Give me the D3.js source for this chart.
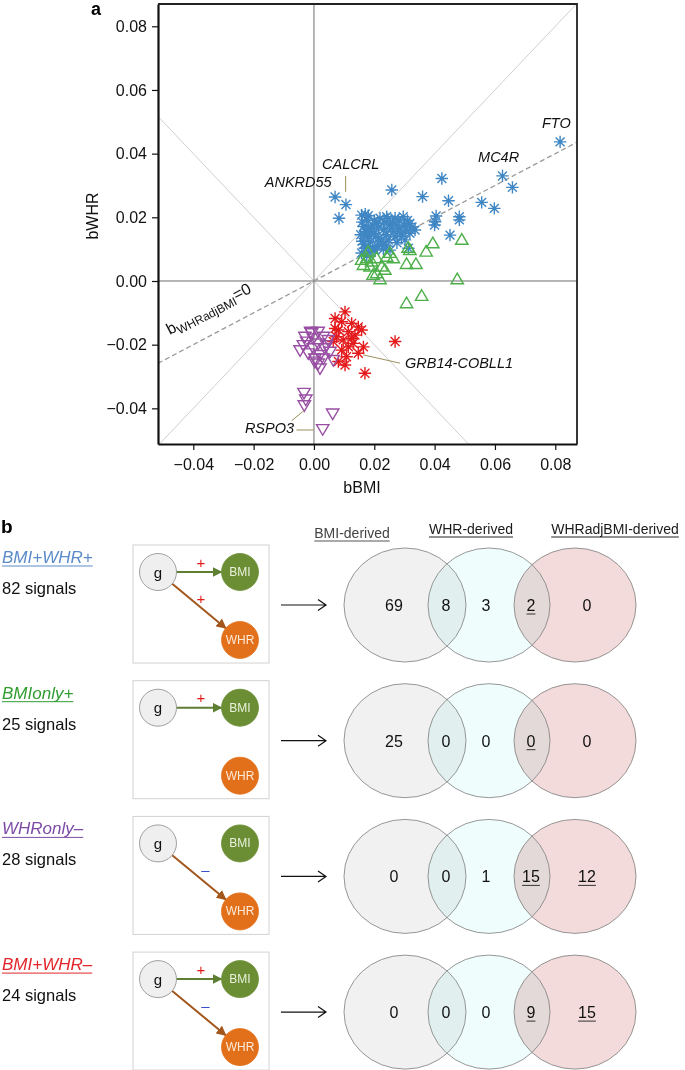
<!DOCTYPE html>
<html lang="en">
<head>
  <meta charset="UTF-8">
  <title>bBMI vs bWHR</title>
  <style>
    body { margin: 0; background: #fff; }
    svg { display: block; font-family: 'Liberation Sans', Arial, Helvetica, sans-serif; }
  </style>
</head>
<body>
  <svg id="svg" width="685" height="1070"></svg>
  <script src="https://d3js.org/d3.v7.min.js"></script>
  <script>
    // panel a: [bBMI, bWHR] per signal
    const bmiWhrPos = [
      [0.0816, 0.0437], [0.0625, 0.0330], [0.0658, 0.0294], [0.0424, 0.0322], [0.0258, 0.0286],
      [0.0360, 0.0265], [0.0446, 0.0252], [0.0556, 0.0247], [0.0598, 0.0228], [0.0405, 0.0204],
      [0.0402, 0.0186], [0.0400, 0.0176], [0.0482, 0.0202], [0.0482, 0.0192], [0.0451, 0.0144],
      [0.0070, 0.0264], [0.0106, 0.0240], [0.0083, 0.0197],
      [0.0158, 0.0207], [0.0170, 0.0210], [0.0180, 0.0205], [0.0208, 0.0181], [0.0219, 0.0197],
      [0.0241, 0.0202], [0.0269, 0.0197], [0.0280, 0.0192], [0.0296, 0.0202], [0.0318, 0.0181],
      [0.0335, 0.0160], [0.0318, 0.0150], [0.0285, 0.0166], [0.0252, 0.0176], [0.0230, 0.0160],
      [0.0191, 0.0155], [0.0169, 0.0144], [0.0186, 0.0123], [0.0169, 0.0103], [0.0202, 0.0097],
      [0.0225, 0.0113], [0.0246, 0.0129], [0.0269, 0.0139], [0.0302, 0.0129], [0.0313, 0.0103],
      [0.0252, 0.0097], [0.0164, 0.0171], [0.0175, 0.0192], [0.0160, 0.0125], [0.0158, 0.0088],
      [0.0175, 0.0080], [0.0190, 0.0090], [0.0210, 0.0110], [0.0215, 0.0135], [0.0200, 0.0150],
      [0.0180, 0.0165], [0.0195, 0.0175], [0.0215, 0.0170], [0.0235, 0.0185], [0.0260, 0.0185],
      [0.0275, 0.0175], [0.0300, 0.0175], [0.0310, 0.0190], [0.0325, 0.0170], [0.0290, 0.0150],
      [0.0265, 0.0155], [0.0240, 0.0145], [0.0225, 0.0125], [0.0180, 0.0110], [0.0165, 0.0115],
      [0.0205, 0.0140], [0.0185, 0.0140], [0.0240, 0.0110], [0.0275, 0.0120], [0.0290, 0.0140],
      [0.0170, 0.0155], [0.0155, 0.0145], [0.0195, 0.0105], [0.0230, 0.0100], [0.0255, 0.0165],
      [0.0245, 0.0195], [0.0305, 0.0160], [0.0200, 0.0190], [0.0160, 0.0185]
    ]
    const bmiOnlyPos = [
      [0.0490, 0.0129], [0.0394, 0.0118], [0.0372, 0.0092], [0.0318, 0.0097], [0.0307, 0.0053],
      [0.0338, 0.0053], [0.0475, 0.0005], [0.0357, -0.0047], [0.0307, -0.0070], [0.0219, 0.0005],
      [0.0235, 0.0035], [0.0208, 0.0024], [0.0164, 0.0050], [0.0186, 0.0045], [0.0175, 0.0071],
      [0.0208, 0.0071], [0.0241, 0.0076], [0.0263, 0.0071], [0.0180, 0.0092], [0.0312, 0.0104],
      [0.0252, 0.0088], [0.0196, 0.0019], [0.0225, 0.0045], [0.0158, 0.0066], [0.0191, 0.0061]
    ]
    const whrOnlyNeg = [
      [-0.0033, -0.0351], [-0.0027, -0.0372], [-0.0032, -0.0390], [0.0062, -0.0416], [0.0029, -0.0465],
      [-0.0011, -0.0159], [0.0014, -0.0159], [-0.0030, -0.0175], [-0.0002, -0.0180], [0.0031, -0.0175],
      [0.0047, -0.0185], [-0.0024, -0.0190], [0.0014, -0.0196], [-0.0046, -0.0217], [-0.0002, -0.0211],
      [0.0036, -0.0211], [-0.0019, -0.0227], [0.0020, -0.0232], [0.0003, -0.0243], [0.0053, -0.0222],
      [0.0064, -0.0248], [0.0031, -0.0243], [0.0014, -0.0259], [0.0020, -0.0274], [-0.0008, -0.0164],
      [0.0042, -0.0201], [-0.0035, -0.0201], [0.0003, -0.0253]
    ]
    const bmiPosWhrNeg = [
      [0.0103, -0.0097], [0.0070, -0.0118], [0.0125, -0.0133], [0.0147, -0.0144], [0.0158, -0.0154],
      [0.0092, -0.0128], [0.0081, -0.0154], [0.0114, -0.0159], [0.0064, -0.0190], [0.0097, -0.0185],
      [0.0125, -0.0180], [0.0164, -0.0207], [0.0114, -0.0207], [0.0092, -0.0217], [0.0147, -0.0227],
      [0.0108, -0.0238], [0.0081, -0.0253], [0.0103, -0.0264], [0.0169, -0.0290], [0.0269, -0.0190],
      [0.0136, -0.0170], [0.0075, -0.0175], [0.0130, -0.0196], [0.0070, -0.0149]
    ]
    const xTicks = [-0.04, -0.02, 0, 0.02, 0.04, 0.06, 0.08]
    const yTicks = [-0.04, -0.02, 0, 0.02, 0.04, 0.06, 0.08]
    const geneNames = ['FTO', 'MC4R', 'CALCRL', 'ANKRD55', 'GRB14-COBLL1', 'RSPO3']
    // label start (bBMI, bWHR)
    const geneAnchors = [[0.0756, 0.0480], [0.0544, 0.0374], [0.0027, 0.0352], [-0.0163, 0.0295], [0.0302, -0.0273], [-0.0229, -0.0477]]
    const leaderLines = [
      [[0.0105, 0.0330], [0.0105, 0.0280]],
      [[0.0163, -0.0232], [0.0285, -0.0258]],
      [[-0.0058, -0.0468], [0.0000, -0.0468]],
      [[-0.0074, -0.0439], [-0.0033, -0.0407]]
    ]

    // panel b
    const groupNames = ['BMI+WHR+', 'BMIonly+', 'WHRonly–', 'BMI+WHR–']
    const groupColors = ['#5b8bc9', '#2f9d2f', '#7d4ba6', '#e2262b']
    const signalCounts = [82, 25, 28, 24]
    const bmiEdge = ['+', '+', null, '+']
    const whrEdge = ['+', null, '–', '–']
    const vennSets = ['BMI-derived', 'WHR-derived', 'WHRadjBMI-derived']
    // regions: BMI only, BMI∩WHR, WHR only, WHR∩WHRadjBMI, WHRadjBMI only
    const vennCounts = [[69, 8, 3, 2, 0], [25, 0, 0, 0, 0], [0, 0, 1, 15, 12], [0, 0, 0, 9, 15]]
    const vennUnderline = [[0, 0, 0, 1, 0], [0, 0, 0, 1, 0], [0, 0, 0, 1, 1], [0, 0, 0, 1, 1]]

    const svg = d3.select('#svg')
    const font = "'Liberation Sans', Arial, Helvetica, sans-serif"

    // ---------- panel a ----------
    const x = d3.scaleLinear().domain([-0.0517, 0.0872]).range([158, 577])
    const y = d3.scaleLinear().domain([-0.0512, 0.087]).range([444, 4])
    const [x0, x1] = x.domain()

    svg.append('clipPath').attr('id', 'plot-clip')
      .append('rect')
      .attr('x', x.range()[0]).attr('y', y.range()[1])
      .attr('width', x.range()[1] - x.range()[0])
      .attr('height', y.range()[0] - y.range()[1])

    const plot = svg.append('g').attr('clip-path', 'url(#plot-clip)')

    const refLine = (a, b, color, width) => plot.append('line')
      .attr('x1', x(a[0])).attr('y1', y(a[1]))
      .attr('x2', x(b[0])).attr('y2', y(b[1]))
      .attr('stroke', color).attr('stroke-width', width)

    refLine([x0, x0], [x1, x1], '#cfcfcf', 1)
    refLine([x0, -x0], [x1, -x1], '#cfcfcf', 1)
    refLine([x0, 0], [x1, 0], '#6e6e6e', 1)
    refLine([0, y.domain()[0]], [0, y.domain()[1]], '#6e6e6e', 1)
    refLine([x0, 0.5 * x0], [x1, 0.5 * x1], '#9a9a9a', 1.3).attr('stroke-dasharray', '5,3')

    const star = r => {
      const d = r * 0.72
      return `M${-r},0H${r}M0,${-r}V${r}M${-d},${-d}L${d},${d}M${-d},${d}L${d},${-d}`
    }
    const triUp = 'M0,-6.2L6.2,4.4L-6.2,4.4Z'
    const triDown = 'M0,6.2L6.2,-4.4L-6.2,-4.4Z'

    const drawGroup = (data, path, color) => plot.append('g')
      .selectAll('path')
      .data(data)
      .join('path')
      .attr('transform', d => `translate(${x(d[0])},${y(d[1])})`)
      .attr('d', path)
      .attr('fill', 'none')
      .attr('stroke', color)
      .attr('stroke-width', 1.4)

    drawGroup(bmiWhrPos, star(6.2), '#3f86c4')
    drawGroup(bmiOnlyPos, triUp, '#4daf4a')
    drawGroup(bmiPosWhrNeg, star(6.2), '#e41a1c')
    drawGroup(whrOnlyNeg, triDown, '#984ea3')

    // leader lines and gene labels
    svg.append('g').selectAll('line')
      .data(leaderLines)
      .join('line')
      .attr('x1', d => x(d[0][0])).attr('y1', d => y(d[0][1]))
      .attr('x2', d => x(d[1][0])).attr('y2', d => y(d[1][1]))
      .attr('stroke', '#9c8f5c').attr('stroke-width', 1)

    svg.append('g').selectAll('text')
      .data(geneNames)
      .join('text')
      .attr('x', (d, i) => x(geneAnchors[i][0]))
      .attr('y', (d, i) => y(geneAnchors[i][1]))
      .attr('font-size', 14.5)
      .attr('font-style', 'italic')
      .attr('fill', '#111')
      .text(d => d)

    // b_WHRadjBMI = 0 label along the dashed line
    const lab = svg.append('text')
      .attr('transform', `translate(${x(-0.0478)},${y(-0.0170)}) rotate(-27.5)`)
      .attr('font-size', 16)
      .attr('fill', '#111')
    lab.append('tspan').text('b')
    lab.append('tspan').attr('font-size', 12).attr('dy', 4).text('WHRadjBMI')
    lab.append('tspan').attr('dy', -4).text('=0')

    // axes
    const fmt = d3.format('.2f')
    const xAxis = svg.append('g')
      .attr('transform', `translate(0,${y.range()[0]})`)
      .call(d3.axisBottom(x).tickValues(xTicks).tickFormat(fmt).tickSize(6).tickSizeOuter(0).tickPadding(9))
    const yAxis = svg.append('g')
      .attr('transform', `translate(${x.range()[0]},0)`)
      .call(d3.axisLeft(y).tickValues(yTicks).tickFormat(fmt).tickSize(6).tickSizeOuter(0).tickPadding(5))

    ;[xAxis, yAxis].forEach(ax => {
      ax.attr('font-family', font).attr('font-size', 16)
      ax.select('.domain').attr('stroke', '#111').attr('stroke-width', 2.2)
      ax.selectAll('.tick line').attr('stroke', '#111').attr('stroke-width', 1.2)
      ax.selectAll('.tick text').attr('fill', '#111')
    })

    // top and right frame
    svg.append('path')
      .attr('d', `M${x.range()[0]},${y.range()[1]}H${x.range()[1]}V${y.range()[0]}`)
      .attr('fill', 'none').attr('stroke', '#222').attr('stroke-width', 1.8)

    svg.append('text')
      .attr('transform', 'translate(98,216) rotate(-90)')
      .attr('text-anchor', 'middle')
      .attr('font-size', 16).attr('fill', '#111')
      .text('bWHR')
    svg.append('text')
      .attr('x', 362).attr('y', 493)
      .attr('text-anchor', 'middle')
      .attr('font-size', 16).attr('fill', '#111')
      .text('bBMI')

    svg.append('text').attr('x', 91).attr('y', 15)
      .attr('font-size', 18).attr('font-weight', 'bold').text('a')
    svg.append('text').attr('x', 1).attr('y', 533)
      .attr('font-size', 19).attr('font-weight', 'bold').text('b')

    // ---------- panel b ----------
    const defs = svg.append('defs')
    const marker = (id, color) => defs.append('marker')
      .attr('id', id)
      .attr('viewBox', '0 0 10 10')
      .attr('refX', 9).attr('refY', 5)
      .attr('markerWidth', 10).attr('markerHeight', 10)
      .attr('markerUnits', 'userSpaceOnUse')
      .attr('orient', 'auto')
      .append('path').attr('d', 'M0,0L10,5L0,10Z').attr('fill', color)
    marker('arrow-bmi', '#5e7e32')
    marker('arrow-whr', '#a2561c')

    const underline = (sel, color, off) => {
      sel.each(function () {
        const t = d3.select(this)
        const w = this.getComputedTextLength()
        const ax = +t.attr('x')
        const anchor = t.attr('text-anchor')
        const left = anchor === 'middle' ? ax - w / 2 : ax
        d3.select(this.parentNode).append('line')
          .attr('x1', left).attr('x2', left + w)
          .attr('y1', +t.attr('y') + off).attr('y2', +t.attr('y') + off)
          .attr('stroke', color).attr('stroke-width', 1)
      })
    }

    // venn set titles
    const vennX = [405, 489, 575]
    const titleX = [352, 471, 615]
    const titleY = [538, 534, 534]
    const titles = svg.append('g')
    vennSets.forEach((s, i) => {
      const t = titles.append('text')
        .attr('x', titleX[i]).attr('y', titleY[i])
        .attr('text-anchor', 'middle')
        .attr('font-size', 14)
        .attr('fill', i === 0 ? '#444' : '#1a1a1a')
        .text(s)
      underline(t, i === 0 ? '#555' : '#222', 3)
    })

    const vennFill = ['#f1f1f1', '#f0fdfd', '#f3dbdb']
    const regionX = [394, 446, 486, 531, 587]

    groupNames.forEach((name, i) => {
      const row = svg.append('g').attr('transform', `translate(0,${545 + i * 135.7})`)

      const lbl = row.append('text')
        .attr('x', 2).attr('y', 18)
        .attr('font-size', 17).attr('font-style', 'italic')
        .attr('fill', groupColors[i])
        .text(name)
      underline(lbl, groupColors[i], 3)

      row.append('text')
        .attr('x', 2).attr('y', 49)
        .attr('font-size', 16.5).attr('fill', '#111')
        .text(`${signalCounts[i]} signals`)

      row.append('rect')
        .attr('x', 133).attr('y', 0).attr('width', 136).attr('height', 118)
        .attr('fill', '#fff').attr('stroke', '#d2d2d2').attr('stroke-width', 1)

      const g = [158, 27], bmi = [240, 27], whr = [240, 95], r = 18.5

      if (bmiEdge[i]) {
        row.append('line')
          .attr('x1', g[0] + r).attr('y1', g[1])
          .attr('x2', bmi[0] - r).attr('y2', bmi[1])
          .attr('stroke', '#5e7e32').attr('stroke-width', 2)
          .attr('marker-end', 'url(#arrow-bmi)')
        row.append('text')
          .attr('x', 201).attr('y', 17)
          .attr('text-anchor', 'middle').attr('dominant-baseline', 'central')
          .attr('font-size', 15).attr('fill', '#e21b1b')
          .text(bmiEdge[i])
      }
      if (whrEdge[i]) {
        const dx = whr[0] - g[0], dy = whr[1] - g[1], len = Math.hypot(dx, dy)
        row.append('line')
          .attr('x1', g[0] + dx / len * r).attr('y1', g[1] + dy / len * r)
          .attr('x2', whr[0] - dx / len * r).attr('y2', whr[1] - dy / len * r)
          .attr('stroke', '#a2561c').attr('stroke-width', 2)
          .attr('marker-end', 'url(#arrow-whr)')
        row.append('text')
          .attr('x', whrEdge[i] === '+' ? 201 : 205.5).attr('y', 53)
          .attr('text-anchor', 'middle').attr('dominant-baseline', 'central')
          .attr('font-size', 15).attr('fill', whrEdge[i] === '+' ? '#e21b1b' : '#3a4ed0')
          .text(whrEdge[i])
      }

      const nodes = [
        { c: g, fill: '#efefef', stroke: '#8a8a8a', label: 'g', color: '#111', size: 15 },
        { c: bmi, fill: '#6b8e34', stroke: '#6b8e34', label: 'BMI', color: '#eaf1dc', size: 12 },
        { c: whr, fill: '#e2701a', stroke: '#e2701a', label: 'WHR', color: '#fde9d8', size: 12 }
      ]
      nodes.forEach(n => {
        row.append('circle')
          .attr('cx', n.c[0]).attr('cy', n.c[1]).attr('r', r)
          .attr('fill', n.fill).attr('stroke', n.stroke).attr('stroke-width', 0.8)
        row.append('text')
          .attr('x', n.c[0]).attr('y', n.c[1])
          .attr('text-anchor', 'middle').attr('dominant-baseline', 'central')
          .attr('font-size', n.size).attr('fill', n.color)
          .text(n.label)
      })

      // arrow to venn
      row.append('path')
        .attr('d', 'M281,60H326M318,54.5L326,60L318,65.5')
        .attr('fill', 'none').attr('stroke', '#111').attr('stroke-width', 1.2)

      const venn = row.append('g').style('isolation', 'isolate')
      vennX.forEach((cx, k) => {
        venn.append('ellipse')
          .attr('cx', cx).attr('cy', 60).attr('rx', 61).attr('ry', 57)
          .attr('fill', vennFill[k])
          .style('mix-blend-mode', 'multiply')
      })
      vennX.forEach(cx => {
        venn.append('ellipse')
          .attr('cx', cx).attr('cy', 60).attr('rx', 61).attr('ry', 57)
          .attr('fill', 'none').attr('stroke', '#7d7d7d').attr('stroke-width', 0.8)
      })

      const nums = row.append('g')
      vennCounts[i].forEach((v, k) => {
        const t = nums.append('text')
          .attr('x', regionX[k]).attr('y', 66)
          .attr('text-anchor', 'middle')
          .attr('font-size', 16).attr('fill', '#111')
          .text(v)
        if (vennUnderline[i][k]) underline(t, '#333', 3)
      })
    })
  </script>
</body>
</html>
